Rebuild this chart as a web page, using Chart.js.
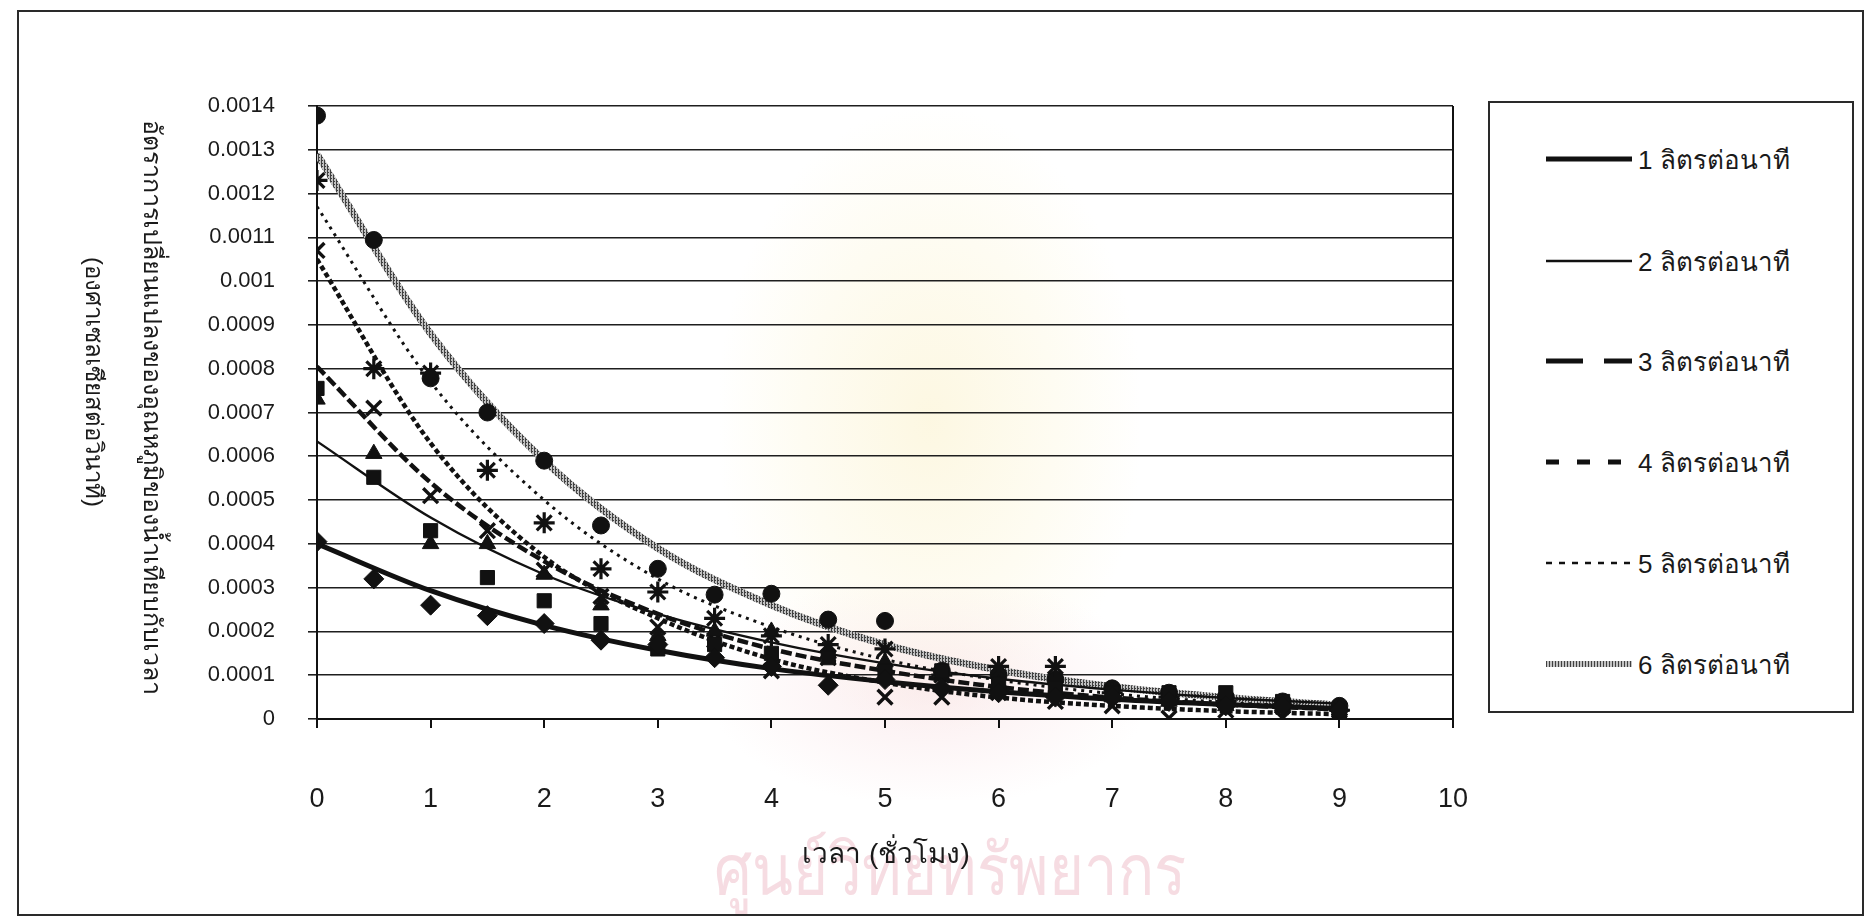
<!DOCTYPE html>
<html lang="th">
<head>
<meta charset="utf-8">
<title>อัตราการเปลี่ยนแปลงของอุณหภูมิของน้ำเทียบกับเวลา</title>
<script src="https://cdn.jsdelivr.net/npm/chart.js@4.4.1/dist/chart.umd.min.js"></script>
<style>
  html, body { margin: 0; padding: 0; background: #fff; }
  #wrap { position: relative; width: 1870px; height: 918px; overflow: hidden; background: #fff; }
  #frame { position: absolute; left: 17px; top: 10px; width: 1847px; height: 906px; border: 2px solid #2a2a2a; box-sizing: border-box; }
  .glow-y { position: absolute; left: 720px; top: 110px; width: 420px; height: 620px;
            background: radial-gradient(ellipse at center, rgba(250,238,190,0.45) 0%, rgba(252,246,215,0.3) 45%, rgba(255,255,255,0) 72%); }
  .glow-p { position: absolute; left: 720px; top: 580px; width: 420px; height: 220px;
            background: radial-gradient(ellipse at center, rgba(245,210,214,0.4) 0%, rgba(250,228,230,0.22) 50%, rgba(255,255,255,0) 75%); }
  #mark { position: absolute; left: 680px; top: 812px; width: 540px; text-align: center;
          font: 60px "Noto Sans", "Liberation Sans", sans-serif; color: rgba(238,186,198,0.5);
          white-space: nowrap; transform: scaleY(1.2); transform-origin: center top; }
  #c { position: absolute; left: 0; top: 0; }
  #legend { position: absolute; left: 1488px; top: 101px; width: 366px; height: 612px;
            border: 2px solid #2a2a2a; box-sizing: border-box; background: #fff; }
  .item { position: absolute; left: 0; height: 40px; width: 360px; }
  .item svg { position: absolute; left: 56px; top: 14px; }
  .item span { position: absolute; left: 148px; top: 0; line-height: 40px;
               font: 26px "Liberation Sans", Arial, sans-serif; color: #1a1a1a; white-space: nowrap; }
</style>
</head>
<body>
<div id="wrap">
  <div class="glow-y"></div>
  <div class="glow-p"></div>
  <div id="mark">ศูนย์วิทยทรัพยากร</div>
  <canvas id="c" width="1870" height="918"></canvas>
  <div id="frame"></div>
  <div id="legend"></div>
</div>
<script>
// Time axis (hours) at which readings were taken
const hours = [0, 0.5, 1, 1.5, 2, 2.5, 3, 3.5, 4, 4.5, 5, 5.5, 6, 6.5, 7, 7.5, 8, 8.5, 9];

// Rate of water temperature change (°C per second) for each flow rate
const rate1 = [0.000405, 0.00032, 0.00026, 0.000236, 0.000218, 0.00018, 0.00017, 0.00014, 0.00012, 0.000077,
               0.00009, 0.00007, 0.00006, 0.00005, 0.00005, 0.00004, 0.00003, 0.00003, 0.00002];
const rate2 = [0.000755, 0.000552, 0.00043, 0.000323, 0.00027, 0.000218, 0.00016, 0.00017, 0.00015, 0.00014,
               0.00011, 0.00011, 0.00008, 0.00007, 0.00006, 0.00006, 0.00006, 0.00004, 0.000003];
const rate3 = [0.00073, 0.000606, 0.0004, 0.0004, 0.00033, 0.00026, 0.00019, 0.0002, 0.0002, 0.00015,
               0.00013, 0.0001, 0.00008, 0.00006, 0.00005, 0.00004, 0.00003, 0.00003, 0.00002];
const rate4 = [0.00107, 0.00071, 0.00051, 0.00043, 0.00034, 0.00028, 0.00021, 0.00018, 0.00011, 0.00014,
               0.00005, 0.00005, 0.00006, 0.00004, 0.00003, 0.000002, 0.00002, 0.000002, 0.00001];
const rate5 = [0.00123, 0.0008, 0.00079, 0.000568, 0.000448, 0.000343, 0.00029, 0.00023, 0.00019, 0.00017,
               0.00016, 0.0001, 0.00012, 0.00012, 0.00006, 0.00005, 0.00004, 0.00003, 0.00002];
const rate6 = [0.001378, 0.001094, 0.000778, 0.0007, 0.00059, 0.000442, 0.000343, 0.000284, 0.000286, 0.000227,
               0.000224, 0.00011, 0.0001, 0.00009, 0.00007, 0.00006, 0.00005, 0.00004, 0.00003];

// Exponential trend curves, read at whole hours
const trendHours = [0, 1, 2, 3, 4, 5, 6, 7, 8, 9];
const trend1 = [0.0004, 0.000293, 0.000214, 0.000157, 0.000115, 0.000085, 0.000062, 0.000045, 0.000033, 0.000024];
const trend2 = [0.000634, 0.00046, 0.00033, 0.00024, 0.000175, 0.000127, 0.000092, 0.000067, 0.000048, 0.000035];
const trend3 = [0.000805, 0.00054, 0.00036, 0.00024, 0.00016, 0.00011, 0.000073, 0.000049, 0.000033, 0.000022];
const trend4 = [0.00105, 0.00063, 0.00037, 0.00023, 0.000137, 0.000083, 0.000049, 0.00003, 0.000018, 0.000011];
const trend5 = [0.00117, 0.00077, 0.0005, 0.00032, 0.00021, 0.000136, 0.000089, 0.000058, 0.000038, 0.000025];
const trend6 = [0.00129, 0.00088, 0.00059, 0.00039, 0.00026, 0.00017, 0.000112, 0.000074, 0.000049, 0.000032];

const seriesNames = ['1 ลิตรต่อนาที', '2 ลิตรต่อนาที', '3 ลิตรต่อนาที', '4 ลิตรต่อนาที', '5 ลิตรต่อนาที', '6 ลิตรต่อนาที'];
const xTickLabels = ['0', '1', '2', '3', '4', '5', '6', '7', '8', '9', '10'];
const yTickLabels = ['0', '0.0001', '0.0002', '0.0003', '0.0004', '0.0005', '0.0006', '0.0007',
                     '0.0008', '0.0009', '0.001', '0.0011', '0.0012', '0.0013', '0.0014'];
const xTitle = 'เวลา (ชั่วโมง)';
const yTitle1 = 'อัตราการเปลี่ยนแปลงของอุณหภูมิของน้ำเทียบกับเวลา';
const yTitle2 = '(องศาเซลเซียสต่อวินาที)';

// Grey hatched stroke used for the 6 L/min curve
function hatchPattern(ctx) {
  const p = document.createElement('canvas');
  p.width = 3; p.height = 3;
  const g = p.getContext('2d');
  g.fillStyle = '#c2c2c2'; g.fillRect(0, 0, 3, 3);
  g.fillStyle = '#404040'; g.fillRect(0, 0, 1, 3); g.fillRect(1, 1, 1, 1);
  return ctx.createPattern(p, 'repeat');
}

const canvas = document.getElementById('c');
const ctx = canvas.getContext('2d');
const hatch = hatchPattern(ctx);

const rates = [rate1, rate2, rate3, rate4, rate5, rate6];
const trends = [trend1, trend2, trend3, trend4, trend5, trend6];
const markers = [
  { pointStyle: 'rectRot', radius: 10, border: 1 },
  { pointStyle: 'rect', radius: 10, border: 1 },
  { pointStyle: 'triangle', radius: 9.5, border: 1 },
  { pointStyle: 'crossRot', radius: 10.5, border: 3.4 },
  { pointStyle: 'star', radius: 10.5, border: 3.2 },
  { pointStyle: 'circle', radius: 8.5, border: 1 }
];
const strokes = [
  { color: '#111', width: 5, dash: [] },
  { color: '#111', width: 2.4, dash: [] },
  { color: '#111', width: 4.5, dash: [11, 4] },
  { color: '#111', width: 4.5, dash: [5, 3] },
  { color: '#111', width: 3, dash: [3, 5] },
  { color: hatch, width: 7, dash: [] }
];

const datasets = [];
rates.forEach((vals, i) => {
  datasets.push({
    type: 'scatter',
    label: seriesNames[i],
    data: hours.map((t, k) => ({ x: t, y: vals[k] })),
    pointStyle: markers[i].pointStyle,
    pointRadius: markers[i].radius,
    pointHoverRadius: markers[i].radius,
    pointBackgroundColor: '#111',
    pointBorderColor: '#111',
    pointBorderWidth: markers[i].border,
    showLine: false,
    order: 0
  });
});
trends.forEach((vals, i) => {
  datasets.push({
    type: 'line',
    label: seriesNames[i] + ' (แนวโน้ม)',
    data: trendHours.map((t, k) => ({ x: t, y: vals[k] })),
    borderColor: strokes[i].color,
    borderWidth: strokes[i].width,
    borderDash: strokes[i].dash,
    borderCapStyle: 'butt',
    pointRadius: 0,
    fill: false,
    cubicInterpolationMode: 'monotone',
    order: 1
  });
});

// Axis titles and the right-hand plot edge
const decor = {
  id: 'decor',
  afterDraw(chart) {
    const { ctx, chartArea: a } = chart;
    ctx.save();
    ctx.strokeStyle = '#111';
    ctx.lineWidth = 2;
    ctx.beginPath();
    ctx.moveTo(a.right, a.top);
    ctx.lineTo(a.right, a.bottom + 9);
    ctx.stroke();

    ctx.fillStyle = '#1a1a1a';
    ctx.textAlign = 'center';
    ctx.textBaseline = 'middle';
    ctx.font = '28px "Liberation Sans Narrow", "Liberation Sans", sans-serif';
    ctx.fillText(xTitle, (a.left + a.right) / 2 + 1, a.bottom + 136);

    ctx.translate(151, 407);
    ctx.rotate(Math.PI / 2);
    ctx.font = '25px "Liberation Sans Narrow", "Liberation Sans", sans-serif';
    ctx.fillText(yTitle1, 0, 0);
    ctx.font = '24px "Liberation Sans Narrow", "Liberation Sans", sans-serif';
    ctx.fillText(yTitle2, -25, 58);
    ctx.restore();
  }
};

new Chart(ctx, {
  type: 'scatter',
  data: { datasets },
  options: {
    responsive: false,
    animation: false,
    events: [],
    layout: { padding: { left: 0, right: 417, top: 106, bottom: 0 } },
    plugins: { legend: { display: false }, tooltip: { enabled: false } },
    scales: {
      x: {
        type: 'linear', min: 0, max: 10,
        afterFit(s) { s.height = 199; },
        afterBuildTicks(s) { s.ticks = xTickLabels.map((_, i) => ({ value: i })); },
        ticks: {
          callback: (v, i) => xTickLabels[i],
          font: { size: 27, family: '"Liberation Sans Narrow", "Liberation Sans", sans-serif' },
          color: '#1a1a1a', padding: 55, maxRotation: 0, autoSkip: false
        },
        grid: { drawOnChartArea: false, drawTicks: true, tickLength: 9, color: '#111', lineWidth: 2 },
        border: { display: true, color: '#111', width: 2 }
      },
      y: {
        type: 'linear', min: 0, max: 0.0014,
        afterFit(s) { s.width = 317; },
        afterBuildTicks(s) { s.ticks = yTickLabels.map((_, i) => ({ value: i * 0.0001 })); },
        ticks: {
          callback: (v, i) => yTickLabels[i],
          font: { size: 22, family: '"Liberation Sans", Arial, sans-serif' },
          color: '#1a1a1a', padding: 33, autoSkip: false
        },
        grid: { color: '#1e1e1e', lineWidth: 1.6, tickLength: 9 },
        border: { display: true, color: '#111', width: 2 }
      }
    }
  },
  plugins: [decor]
});

// Legend box
const legend = document.getElementById('legend');
const rowTops = [36, 138, 238, 339, 440, 541];
const svgNS = 'http://www.w3.org/2000/svg';
const legendStrokes = [
  { w: 5, dash: '' }, { w: 2.4, dash: '' }, { w: 5, dash: '37 21' },
  { w: 5, dash: '13 18' }, { w: 2.5, dash: '6 7' }, { w: 6, dash: '', hatch: true }
];
seriesNames.forEach((name, i) => {
  const row = document.createElement('div');
  row.className = 'item';
  row.style.top = rowTops[i] + 'px';
  const svg = document.createElementNS(svgNS, 'svg');
  svg.setAttribute('width', '88'); svg.setAttribute('height', '12');
  if (legendStrokes[i].hatch) {
    const defs = document.createElementNS(svgNS, 'defs');
    const pat = document.createElementNS(svgNS, 'pattern');
    pat.setAttribute('id', 'hatch'); pat.setAttribute('width', '3'); pat.setAttribute('height', '3');
    pat.setAttribute('patternUnits', 'userSpaceOnUse');
    const bg = document.createElementNS(svgNS, 'rect');
    bg.setAttribute('width', '3'); bg.setAttribute('height', '3'); bg.setAttribute('fill', '#c2c2c2');
    const fg = document.createElementNS(svgNS, 'rect');
    fg.setAttribute('width', '1'); fg.setAttribute('height', '3'); fg.setAttribute('fill', '#404040');
    pat.appendChild(bg); pat.appendChild(fg); defs.appendChild(pat); svg.appendChild(defs);
  }
  const ln = document.createElementNS(svgNS, 'line');
  ln.setAttribute('x1', '0'); ln.setAttribute('x2', '86');
  ln.setAttribute('y1', '6'); ln.setAttribute('y2', '6');
  ln.setAttribute('stroke', legendStrokes[i].hatch ? 'url(#hatch)' : '#111');
  ln.setAttribute('stroke-width', legendStrokes[i].w);
  if (legendStrokes[i].dash) ln.setAttribute('stroke-dasharray', legendStrokes[i].dash);
  svg.appendChild(ln);
  const label = document.createElement('span');
  label.textContent = name;
  row.appendChild(svg);
  row.appendChild(label);
  legend.appendChild(row);
});
</script>
</body>
</html>
